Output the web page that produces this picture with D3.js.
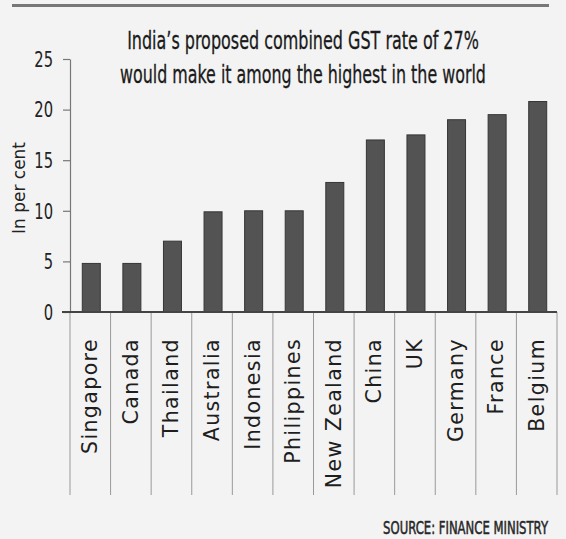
<!DOCTYPE html>
<html>
<head>
<meta charset="utf-8">
<script src="https://cdn.jsdelivr.net/npm/d3@7"></script>
<style>
  html, body { margin: 0; padding: 0; background: #f3f3f3; }
  svg { display: block; }
</style>
</head>
<body>
<script>
// GST rates by country
var countries = ["Singapore", "Canada", "Thailand", "Australia", "Indonesia", "Philippines",
                 "New Zealand", "China", "UK", "Germany", "France", "Belgium"];
var rates = [4.8, 4.8, 7, 9.9, 10, 10, 12.8, 17, 17.5, 19, 19.5, 20.8];
var yTicks = [0, 5, 10, 15, 20, 25];
var titleLines = ["India\u2019s proposed combined GST rate of 27%",
                  "would make it among the highest in the world"];
var sourceText = "SOURCE: FINANCE MINISTRY";

var data = countries.map(function(c, i) { return { country: c, rate: rates[i] }; });

var svg = d3.select("body")
    .append("svg")
    .attr("width", 566)
    .attr("height", 539);

svg.append("rect")
    .attr("width", 566)
    .attr("height", 539)
    .attr("fill", "#f3f3f3");

// top rule
svg.append("line")
    .attr("x1", 12).attr("x2", 549)
    .attr("y1", 5.5).attr("y2", 5.5)
    .attr("stroke", "#777")
    .attr("stroke-width", 3);

var x = d3.scaleBand()
    .domain(countries)
    .range([70, 557])
    .paddingInner(0);

var y = d3.scaleLinear()
    .domain([0, 25])
    .range([312, 59]);

var barW = 18;
var condensed = "'DejaVu Sans Condensed', 'Liberation Sans Narrow', sans-serif";

// squeeze a text horizontally (like a condensed face) to span the wanted width
function squeeze(g, width) {
    var t = g.select("text").node();
    var len = t.getComputedTextLength();
    var base = g.attr("transform");
    if (len > 0) g.attr("transform", base + " scale(" + (width / len) + ",1)");
}

// title
var titleWidths = [352, 366];
titleLines.forEach(function(line, i) {
    var g = svg.append("g")
        .attr("transform", "translate(303," + (49 + i * 34) + ")");
    g.append("text")
        .attr("text-anchor", "middle")
        .attr("font-family", condensed)
        .attr("font-size", 25)
        .attr("fill", "#1a1a1a")
        .attr("stroke", "#1a1a1a")
        .attr("stroke-width", 0.3)
        .text(line);
    squeeze(g, titleWidths[i]);
});

// y axis
var tickSq = 0.78;
var yAxis = svg.append("g")
    .attr("transform", "translate(70,0)")
    .call(d3.axisLeft(y).tickValues(yTicks).tickSize(7).tickSizeOuter(0).tickPadding(10));

yAxis.select(".domain").attr("stroke", "#777").attr("stroke-width", 1.2);
yAxis.selectAll(".tick line").attr("stroke", "#777").attr("stroke-width", 1.2);
yAxis.selectAll(".tick text")
    .attr("font-family", condensed)
    .attr("font-size", 21)
    .attr("fill", "#222")
    .attr("x", -17 / tickSq)
    .attr("transform", "scale(" + tickSq + ",1)")
    .attr("dy", "0.35em");

svg.append("text")
    .attr("transform", "translate(25,188) rotate(-90)")
    .attr("text-anchor", "middle")
    .attr("font-family", "'DejaVu Sans', sans-serif")
    .attr("font-size", 17)
    .attr("fill", "#222")
    .text("In per cent");

// category separators
var edges = countries.map(function(c) { return x(c); }).concat([x.range()[1]]);
svg.selectAll(".sep")
    .data(edges)
    .enter()
    .append("line")
    .attr("class", "sep")
    .attr("x1", function(d) { return d; })
    .attr("x2", function(d) { return d; })
    .attr("y1", y(0))
    .attr("y2", 495)
    .attr("stroke", "#999")
    .attr("stroke-width", 1);

// bars
svg.selectAll(".bar")
    .data(data)
    .enter()
    .append("rect")
    .attr("class", "bar")
    .attr("x", function(d) { return x(d.country) + (x.bandwidth() - barW) / 2 + 1; })
    .attr("y", function(d) { return y(d.rate); })
    .attr("width", barW)
    .attr("height", function(d) { return y(0) - y(d.rate); })
    .attr("fill", "#535353")
    .attr("stroke", "#363636")
    .attr("stroke-width", 1);

// baseline
svg.append("line")
    .attr("x1", 62).attr("x2", 557)
    .attr("y1", y(0)).attr("y2", y(0))
    .attr("stroke", "#444")
    .attr("stroke-width", 2);

// country labels
svg.selectAll(".label")
    .data(data)
    .enter()
    .append("text")
    .attr("class", "label")
    .attr("transform", function(d) {
        return "translate(" + (x(d.country) + x.bandwidth() / 2 + 7) + ",338) rotate(-90)";
    })
    .attr("text-anchor", "end")
    .attr("font-family", "'DejaVu Sans', sans-serif")
    .attr("font-size", 20.5)
    .attr("letter-spacing", 1.4)
    .attr("fill", "#1e1e1e")
    .text(function(d) { return d.country; });

// source
var src = svg.append("g").attr("transform", "translate(548,534)");
src.append("text")
    .attr("text-anchor", "end")
    .attr("font-family", condensed)
    .attr("font-size", 18)
    .attr("fill", "#262626")
    .attr("stroke", "#262626")
    .attr("stroke-width", 0.5)
    .text(sourceText);
squeeze(src, 165);
</script>
</body>
</html>
